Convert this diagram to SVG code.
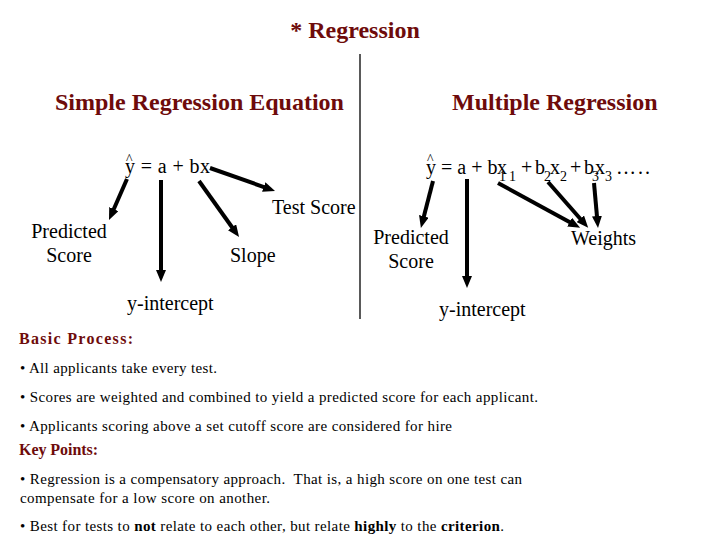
<svg xmlns="http://www.w3.org/2000/svg" width="720" height="540" viewBox="0 0 720 540">
<defs>
<marker id="ah" markerUnits="userSpaceOnUse" markerWidth="12" markerHeight="10" refX="4" refY="5" orient="auto">
<path d="M0,0 L12,5 L0,10 z" fill="#000"/>
</marker>
<style>
.hd{font-family:"Liberation Serif",serif;font-weight:bold;fill:#6E0B0B;font-size:24px}
.lb{font-family:"Liberation Serif",serif;fill:#000;font-size:20px}
.eq{font-family:"Liberation Serif",serif;fill:#000;font-size:20px}
.sub{font-family:"Liberation Serif",serif;fill:#000;font-size:14px}
.hat{font-family:"Liberation Serif",serif;fill:#000;font-size:14px}
.bh{font-family:"Liberation Serif",serif;font-weight:bold;fill:#6E0B0B;font-size:16px}
.bt{font-family:"Liberation Serif",serif;fill:#000;font-size:15px}
.ar{stroke:#000;stroke-width:4;fill:none;marker-end:url(#ah)}
</style>
</defs>
<rect width="720" height="540" fill="#fff"/>
<g id="title"><text class="hd" x="355" y="38" text-anchor="middle">* Regression</text></g>
<g id="simple-header"><text class="hd" x="55" y="110">Simple Regression Equation</text></g>
<g id="multiple-header"><text class="hd" x="452" y="110">Multiple Regression</text></g>
<line x1="360" y1="54" x2="360" y2="319" stroke="#000" stroke-width="1.3"/>
<g id="simple-eq">
<text class="hat" x="126" y="164">^</text>
<text class="eq" x="125" y="173" textLength="85" xml:space="preserve">y = a + bx</text>
</g>
<g id="multi-eq">
<text class="hat" x="427" y="164">^</text>
<text class="eq" x="426" y="174" xml:space="preserve">y = a + b</text>
<text class="eq" x="497" y="174">x</text>
<text class="sub" x="499" y="181">1</text>
<text class="sub" x="509" y="181">1</text>
<text class="eq" x="521" y="174">+</text>
<text class="eq" x="535" y="174">b</text>
<text class="sub" x="544" y="181">2</text>
<text class="eq" x="550" y="174">x</text>
<text class="sub" x="560" y="181">2</text>
<text class="eq" x="570" y="174">+</text>
<text class="eq" x="584" y="174">b</text>
<text class="sub" x="592" y="181">3</text>
<text class="eq" x="595" y="174">x</text>
<text class="sub" x="605" y="181">3</text>
<text class="eq" x="616" y="174" textLength="34">…..</text>
</g>
<g id="test-score"><text class="lb" x="272" y="214">Test Score</text></g>
<g id="predicted-left"><text class="lb" x="69" y="238" text-anchor="middle">Predicted</text><text class="lb" x="69" y="262" text-anchor="middle">Score</text></g>
<g id="slope"><text class="lb" x="230" y="262">Slope</text></g>
<g id="yint-left"><text class="lb" x="127" y="310">y-intercept</text></g>
<g id="predicted-right"><text class="lb" x="411" y="244" text-anchor="middle">Predicted</text><text class="lb" x="411" y="268" text-anchor="middle">Score</text></g>
<g id="weights"><text class="lb" x="571" y="245">Weights</text></g>
<g id="yint-right"><text class="lb" x="439" y="316">y-intercept</text></g>
<g id="connectors">
<line class="ar" x1="127" y1="179" x2="112.2" y2="212.7"/>
<line class="ar" x1="161" y1="180" x2="161" y2="274"/>
<line class="ar" x1="199" y1="181" x2="234.4" y2="230.5"/>
<line class="ar" x1="210" y1="168" x2="267.5" y2="188.3"/>
<line class="ar" x1="433" y1="181" x2="422.9" y2="220.2"/>
<line class="ar" x1="467" y1="179" x2="467" y2="280"/>
<line class="ar" x1="498" y1="183" x2="573.1" y2="224"/>
<line class="ar" x1="548" y1="182" x2="582.9" y2="221.8"/>
<line class="ar" x1="594" y1="183" x2="597.3" y2="220"/>
</g>
<g id="notes">
<text class="bh" x="19" y="344" textLength="114">Basic Process:</text>
<text class="bt" x="20" y="373" textLength="197">• All applicants take every test.</text>
<text class="bt" x="20" y="402" textLength="518">• Scores are weighted and combined to yield a predicted score for each applicant.</text>
<text class="bt" x="20" y="431" textLength="432">• Applicants scoring above a set cutoff score are considered for hire</text>
<text class="bh" x="19" y="455" textLength="79">Key Points:</text>
<text class="bt" x="20" y="484" textLength="502" xml:space="preserve">• Regression is a compensatory approach.  That is, a high score on one test can</text>
<text class="bt" x="20" y="503" textLength="250">compensate for a low score on another.</text>
<text class="bt" x="20" y="531" textLength="484">• Best for tests to <tspan font-weight="bold">not</tspan> relate to each other, but relate <tspan font-weight="bold">highly</tspan> to the <tspan font-weight="bold">criterion</tspan>.</text>
</g>
</svg>
